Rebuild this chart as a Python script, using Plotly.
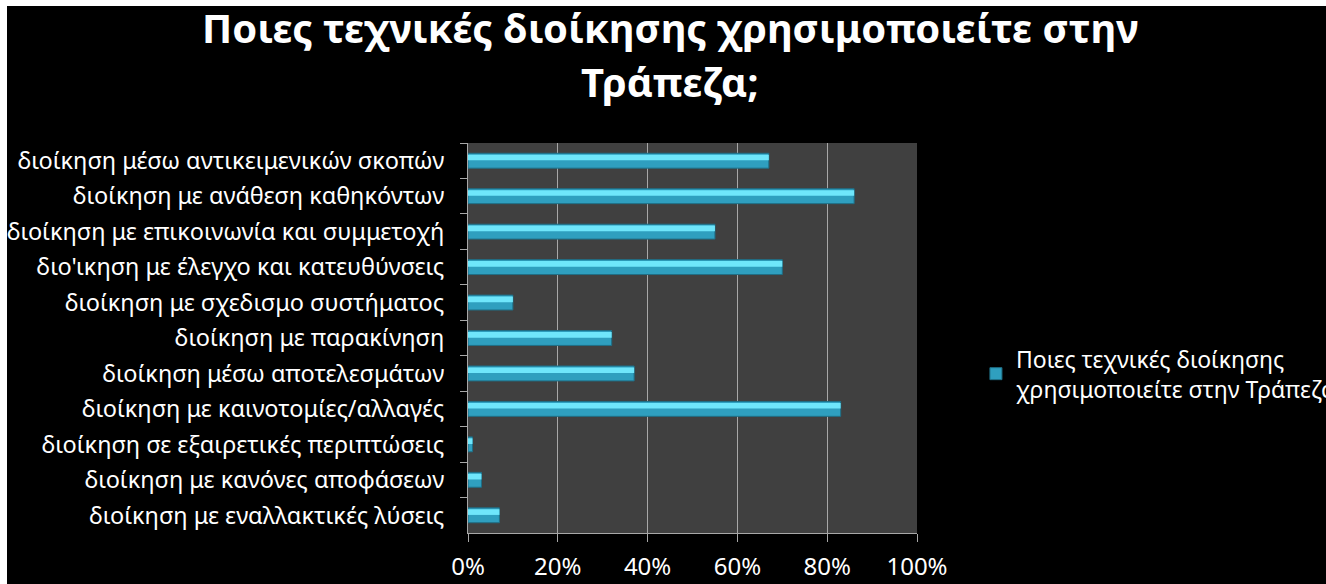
import plotly.graph_objects as go

categories = [
    "διοίκηση μέσω αντικειμενικών σκοπών",
    "διοίκηση με ανάθεση καθηκόντων",
    "διοίκηση με επικοινωνία και συμμετοχή",
    "διο'ικηση με έλεγχο και κατευθύνσεις",
    "διοίκηση με σχεδισμο συστήματος",
    "διοίκηση με παρακίνηση",
    "διοίκηση μέσω αποτελεσμάτων",
    "διοίκηση με καινοτομίες/αλλαγές",
    "διοίκηση σε εξαιρετικές περιπτώσεις",
    "διοίκηση με κανόνες αποφάσεων",
    "διοίκηση με εναλλακτικές λύσεις",
]
values = [0.67, 0.86, 0.55, 0.70, 0.10, 0.32, 0.37, 0.83, 0.01, 0.03, 0.07]
series_name = "Ποιες τεχνικές διοίκησης<br>χρησιμοποιείτε στην Τράπεζα;"
title_lines = ["Ποιες τεχνικές διοίκησης χρησιμοποιείτε στην", "Τράπεζα;"]
tick_vals = [0, 0.2, 0.4, 0.6, 0.8, 1.0]
tick_text = ["0%", "20%", "40%", "60%", "80%", "100%"]

FONT = "Noto Sans"
W, H = 1326, 584
L, R, T, B = 468, 409, 143, 51
PW, PH = W - L - R, H - T - B


def px_x(px):
    return (px - L) / PW


def px_y(py):
    return (H - B - py) / PH


fig = go.Figure()
fig.add_trace(go.Bar(
    y=categories, x=values, orientation="h", name=series_name,
    width=0.42,
    marker=dict(color="#2f9fbf", line=dict(color="#1f6f86", width=1)),
))
fig.add_trace(go.Bar(
    y=categories, x=values, orientation="h", showlegend=False,
    width=0.16, offset=-0.17,
    marker=dict(color="#6fe6fb", line=dict(width=0)),
    hoverinfo="skip",
))

title_ann = [
    dict(text=title_lines[0], xref="paper", yref="paper",
         x=px_x(670), xanchor="center", y=px_y(-1), yanchor="top",
         showarrow=False, borderpad=0,
         font=dict(family=FONT, size=40, color="white", weight="bold")),
    dict(text=title_lines[1], xref="paper", yref="paper",
         x=px_x(670), xanchor="center", y=px_y(53), yanchor="top",
         showarrow=False, borderpad=0,
         font=dict(family=FONT, size=40, color="white", weight="bold")),
]

frame_shapes = [
    dict(type="rect", xref="paper", yref="paper", layer="above",
         x0=px_x(0), x1=px_x(7), y0=px_y(H), y1=px_y(0),
         fillcolor="white", line=dict(width=0)),
    dict(type="rect", xref="paper", yref="paper", layer="above",
         x0=px_x(0), x1=px_x(W), y0=px_y(6), y1=px_y(0),
         fillcolor="white", line=dict(width=0)),
]

fig.update_layout(
    width=W, height=H,
    paper_bgcolor="black", plot_bgcolor="#404040",
    barmode="overlay",
    margin=dict(l=L, r=R, t=T, b=B, autoexpand=False),
    font=dict(family=FONT, color="white"),
    legend=dict(
        xref="container", yref="container",
        x=0.736, xanchor="left", y=0.36, yanchor="middle",
        font=dict(size=23, color="white"), bgcolor="rgba(0,0,0,0)",
        itemwidth=30,
    ),
    showlegend=True,
    annotations=title_ann,
    shapes=frame_shapes,
)
fig.update_xaxes(
    range=[0, 1], tickvals=tick_vals, ticktext=tick_text,
    showgrid=True, gridcolor="#a8a8a8", gridwidth=1,
    showline=True, linecolor="#a8a8a8", linewidth=1,
    ticks="outside", ticklen=8, tickcolor="#a8a8a8",
    ticklabelstandoff=4, automargin=False,
    tickfont=dict(size=24, color="white"), zeroline=False,
)
fig.update_yaxes(
    autorange="reversed", automargin=False,
    showgrid=False, showline=True, linecolor="#a8a8a8", linewidth=1,
    ticks="outside", ticklen=7, tickcolor="#a8a8a8", tickson="boundaries",
    ticklabelstandoff=18,
    tickfont=dict(size=23.5, color="white"),
)

fig.write_html(
    "out.html",
    config={"displayModeBar": False},
    post_script="document.body.style.margin='0';document.body.style.background='black';",
)
